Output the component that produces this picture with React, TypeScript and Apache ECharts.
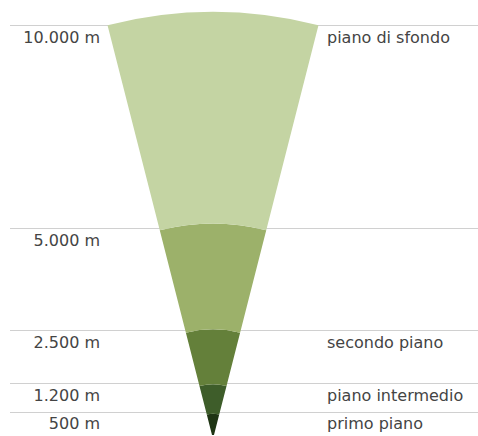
import React, { useEffect, useRef } from "react";
import * as echarts from "echarts";

// Distances (m) bounding each plane, from nearest to farthest
const distances = [500, 1200, 2500, 5000, 10000];
const distanceLabels = ["500 m", "1.200 m", "2.500 m", "5.000 m", "10.000 m"];
const planeLabels = ["primo piano", "piano intermedio", "secondo piano", "", "piano di sfondo"];
const bandColors = ["#1f3514", "#3e5d2a", "#64803a", "#9cb16a", "#c4d4a3"];
const fanCategory = ["campo visivo"];

export default function App() {
  const ref = useRef<HTMLDivElement>(null);

  useEffect(() => {
    if (!ref.current) return;
    const chart = echarts.init(ref.current, undefined, { renderer: "svg" });

    const halfAngle = 14.3;
    const cx = 213;
    const cy = 439;
    const R = 427;
    const rMin = -95;
    const rMax = 10000;
    const cosA = Math.cos((halfAngle * Math.PI) / 180);

    const bandValues = distances.map((d, i) => d - (i > 0 ? distances[i - 1] : 0));

    const findLabel = (arr: string[]) => (v: number) => {
      const i = distances.indexOf(Math.round(v));
      return i >= 0 ? arr[i] : "";
    };

    const labelFont = {
      fontFamily: "DejaVu Sans",
      fontSize: 16,
      color: "#444444",
    };

    chart.setOption({
      animation: false,
      polar: { center: [cx, cy], radius: R },
      angleAxis: {
        type: "category",
        data: fanCategory,
        startAngle: 90 + halfAngle,
        endAngle: 90 - halfAngle,
        clockwise: true,
        axisLine: { show: false },
        axisTick: { show: false },
        axisLabel: { show: false },
        splitLine: { show: false },
      },
      radiusAxis: {
        type: "value",
        min: rMin,
        max: rMax,
        axisLine: { show: false },
        axisTick: { show: false },
        axisLabel: { show: false },
        splitLine: { show: false },
      },
      grid: {
        left: 10,
        right: 0,
        top: cy - R * cosA,
        height: R * cosA,
      },
      xAxis: { type: "value", min: 0, max: 1, show: false },
      yAxis: [
        {
          type: "value",
          position: "left",
          min: rMin,
          max: rMax,
          axisLine: { show: false },
          axisTick: { show: false },
          splitLine: { show: false },
          axisLabel: {
            inside: true,
            margin: 90,
            align: "right",
            verticalAlign: "top",
            padding: [4, 0, 0, 0],
            customValues: distances,
            formatter: findLabel(distanceLabels),
            ...labelFont,
          },
        },
        {
          type: "value",
          position: "right",
          min: rMin,
          max: rMax,
          axisLine: { show: false },
          axisTick: { show: false },
          splitLine: { show: false },
          axisLabel: {
            inside: true,
            margin: 151,
            align: "left",
            verticalAlign: "top",
            padding: [4, 0, 0, 0],
            customValues: distances,
            formatter: findLabel(planeLabels),
            ...labelFont,
          },
        },
      ],
      series: [
        {
          type: "line",
          xAxisIndex: 0,
          yAxisIndex: 0,
          data: [],
          z: 1,
          silent: true,
          markLine: {
            silent: true,
            symbol: "none",
            label: { show: false },
            lineStyle: { color: "#d0d0d0", width: 1, type: "solid" },
            data: distances.map((d) => ({ yAxis: d })),
          },
        },
        ...bandValues.map((v, i) => ({
          type: "bar",
          coordinateSystem: "polar",
          stack: "fan",
          data: [v],
          barWidth: "100%",
          barCategoryGap: "0%",
          z: 5,
          silent: true,
          itemStyle: { color: bandColors[i] },
        })),
      ],
    });

    return () => chart.dispose();
  }, []);

  return (
    <div
      ref={ref}
      style={{ position: "absolute", left: 0, top: 0, width: 478, height: 436 }}
    />
  );
}
